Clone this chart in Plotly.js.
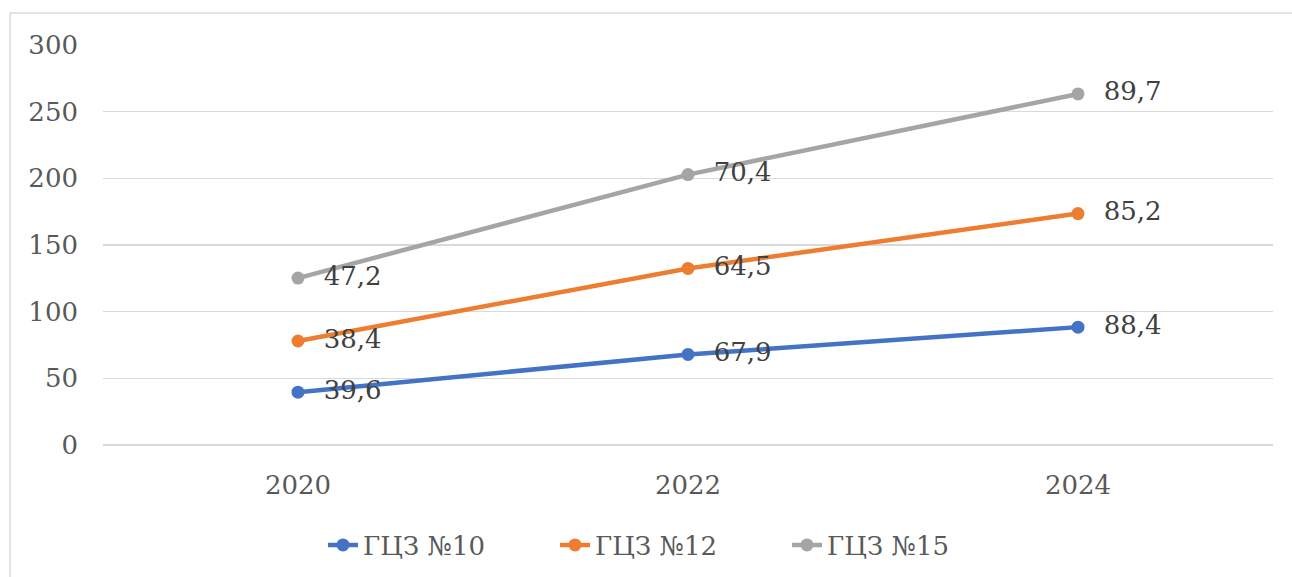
<!DOCTYPE html>
<html>
<head>
<meta charset="utf-8">
<script src="https://cdn.plot.ly/plotly-3.0.1.min.js"></script>
<style>
  html, body { margin: 0; padding: 0; background: #ffffff; }
  #chart { width: 1292px; height: 577px; }
</style>
</head>
<body>
<div id="chart"></div>
<script>
// Years on the category axis
const years = ['2020', '2022', '2024'];

// Series names and values (lines are stacked on top of each other)
const names = ['ГЦЗ №10', 'ГЦЗ №12', 'ГЦЗ №15'];
const gcz10 = [39.6, 67.9, 88.4];
const gcz12 = [38.4, 64.5, 85.2];
const gcz15 = [47.2, 70.4, 89.7];
const colors = ['#4472C4', '#ED7D31', '#A5A5A5'];

// Y axis ticks
const yTicks = [0, 50, 100, 150, 200, 250, 300];

const W = 1292, H = 577;
const M = { l: 103, r: 19, t: 45, b: 132 };
const pw = W - M.l - M.r, ph = H - M.t - M.b;

// Decimal comma; non-breaking spaces push the label away from the marker
const fmt = v => '\u00A0\u00A0' + v.toFixed(1).replace('.', ',');
const serif = 'DejaVu Serif';
const fs = 26;

const traces = [gcz10, gcz12, gcz15].map((vals, i) => ({
  type: 'scatter',
  x: years,
  y: vals,
  name: names[i],
  stackgroup: 'one',
  fill: 'none',
  mode: 'lines+markers+text',
  line: { color: colors[i], width: 4.5 },
  marker: { color: colors[i], size: 13 },
  text: vals.map(fmt),
  textposition: 'middle right',
  textfont: { family: serif, size: fs, color: '#404040' },
  cliponaxis: false,
  hoverinfo: 'x+text+name'
}));

// Outer frame: left and top edges of the chart box
const px2x = p => (p - M.l) / pw;
const px2y = p => 1 - (p - M.t) / ph;
const frame = { color: '#d9d9d9', width: 1.5 };

const layout = {
  width: W,
  height: H,
  margin: M,
  paper_bgcolor: '#ffffff',
  plot_bgcolor: '#ffffff',
  font: { family: serif, size: fs, color: '#595959' },
  showlegend: true,
  legend: {
    orientation: 'h',
    xref: 'container', yref: 'container',
    x: 0.5 + 25 / W, xanchor: 'center',
    y: (H - 545) / H, yanchor: 'middle',
    font: { family: serif, size: fs, color: '#595959' },
    entrywidth: 187,
    entrywidthmode: 'pixels',
    traceorder: 'normal'
  },
  xaxis: {
    type: 'category',
    range: [-0.5, 2.5],
    automargin: false,
    showgrid: false,
    zeroline: false,
    showline: false,
    ticks: '',
    ticklabelstandoff: 22,
    tickfont: { family: serif, size: fs, color: '#595959' },
    fixedrange: true
  },
  yaxis: {
    range: [0, 300],
    automargin: false,
    tickvals: yTicks,
    ticktext: yTicks.map(String),
    showgrid: true,
    gridcolor: '#d9d9d9',
    gridwidth: 1.5,
    zeroline: true,
    zerolinecolor: '#d9d9d9',
    zerolinewidth: 1.5,
    showline: false,
    ticks: '',
    ticklabelstandoff: 24,
    tickfont: { family: serif, size: fs, color: '#595959' },
    fixedrange: true
  },
  shapes: [
    { type: 'line', xref: 'paper', yref: 'paper',
      x0: px2x(10), x1: px2x(10), y0: px2y(13), y1: px2y(H + 5), line: frame },
    { type: 'line', xref: 'paper', yref: 'paper',
      x0: px2x(10), x1: px2x(W + 5), y0: px2y(13), y1: px2y(13), line: frame }
  ]
};

Plotly.newPlot('chart', traces, layout, { displayModeBar: false, staticPlot: true });
</script>
</body>
</html>
